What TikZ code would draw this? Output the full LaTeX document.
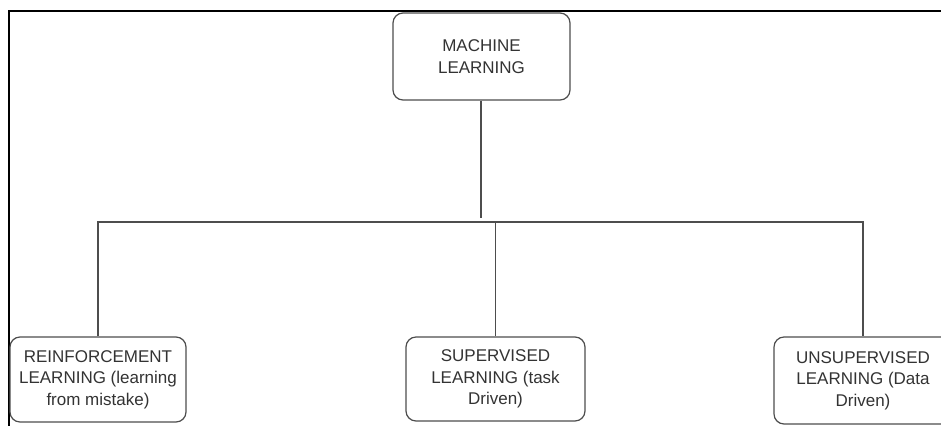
\documentclass[tikz,border=0pt]{standalone}
\usepackage{fontspec}
\setmainfont{Liberation Sans}
\definecolor{txt}{HTML}{333333}
\definecolor{edge}{HTML}{4D4D4D}
\begin{document}
\begin{tikzpicture}[x=1pt,y=-1pt,
  box/.style={draw=edge, line width=1.2pt, rounded corners=10pt, align=center,
    font=\fontsize{17}{21.5}\selectfont, text=txt, inner sep=0pt},
  link/.style={draw=edge, line width=1.2pt},
  frame/.style={draw=black, line width=1.5pt}]
\useasboundingbox (0,0) rectangle (941,426);
\fill[white] (0,0) rectangle (941,426);
\draw[frame] (941,11) -- (9,11) -- (9,426);

\node[box, minimum width=177pt, minimum height=87pt] (ml) at (481.5,56.5) {MACHINE\\LEARNING};
\node[box, minimum width=176pt, minimum height=85pt] (rl) at (98,379.5) {REINFORCEMENT\\LEARNING (learning\\from mistake)};
\node[box, minimum width=179pt, minimum height=84pt] (sl) at (495.5,379) {SUPERVISED\\LEARNING (task\\Driven)};
\node[box, minimum width=178pt, minimum height=87pt] (ul) at (863,380.5) {UNSUPERVISED\\LEARNING (Data\\Driven)};

\coordinate (j) at (481,218);
\coordinate (bus) at (0,222);
\draw[link] (ml.south -| j) -- (j);
\draw[link] (rl.north) -- (rl.north |- bus) -- (ul.north |- bus) -- (ul.north);
\draw[link] (sl.north) -- (sl.north |- bus);
\end{tikzpicture}
\end{document}
